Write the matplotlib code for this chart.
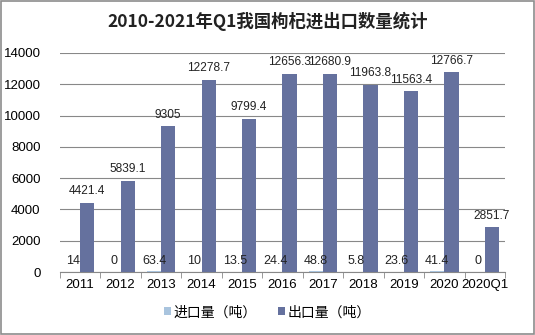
import matplotlib
matplotlib.use("Agg")
import matplotlib.pyplot as plt
import numpy as np

plt.rcParams['font.family'] = ['Liberation Sans', 'Noto Sans CJK SC', 'DejaVu Sans']

years = ["2011", "2012", "2013", "2014", "2015", "2016", "2017", "2018", "2019", "2020", "2020Q1"]
imports = [14, 0, 63.4, 10, 13.5, 24.4, 48.8, 5.8, 23.6, 41.4, 0]
exports = [4421.4, 5839.1, 9305, 12278.7, 9799.4, 12656.3, 12680.9, 11963.8, 11563.4, 12766.7, 2851.7]
import_labels = ["14", "0", "63.4", "10", "13.5", "24.4", "48.8", "5.8", "23.6", "41.4", "0"]
export_labels = ["4421.4", "5839.1", "9305", "12278.7", "9799.4", "12656.3", "12680.9",
                 "11963.8", "11563.4", "12766.7", "2851.7"]

c_imp = "#A9C4DE"
c_exp = "#65719E"

fig = plt.figure(figsize=(5.35, 3.35), dpi=100)
ax = fig.add_axes([0.112, 0.188, 0.832, 0.654])

x = np.arange(len(years))
w = 0.35
ax.bar(x - w / 2, imports, w, color=c_imp, label="进口量（吨）", zorder=3)
ax.bar(x + w / 2, exports, w, color=c_exp, label="出口量（吨）", zorder=3)

for xi, v, s in zip(x, imports, import_labels):
    ax.text(xi - w / 2, 300, s, ha="center", va="bottom", fontsize=9, color="#222222", zorder=4)
for xi, v, s in zip(x, exports, export_labels):
    ax.text(xi + w / 2, v + 350, s, ha="center", va="bottom", fontsize=8.6, color="#222222", zorder=4)

ax.set_xlim(-0.5, len(years) - 0.5)
ax.set_ylim(0, 14000)
ax.set_yticks(range(0, 14001, 2000))
ax.set_xticks(x)
ax.set_xticklabels(years, fontsize=9.5)
ax.set_xticks(np.arange(-0.5, len(years), 1), minor=True)
ax.tick_params(axis="x", which="major", length=0, pad=5)
ax.tick_params(axis="x", which="minor", length=4, color="#888888")
ax.tick_params(axis="y", length=0, labelsize=9.5, pad=14)
ax.grid(axis="y", color="#888888", linewidth=0.8, zorder=0)
for s in ["top", "right", "left"]:
    ax.spines[s].set_visible(False)
ax.spines["bottom"].set_color("#888888")

fig.text(0.5, 0.935, "2010-2021年Q1我国枸杞进出口数量统计", ha="center", va="center",
         fontsize=12.5, fontweight="bold", family=["Noto Sans CJK SC"], color="#222222")

fig.legend(loc="center", bbox_to_anchor=(0.5, 0.068), ncol=2, frameon=False,
           handlelength=0.5, handleheight=0.5, handletextpad=0.2,
           columnspacing=1.5, prop={"family": ["Noto Sans CJK SC"], "size": 10})

fig.patches.append(plt.Rectangle((0.002, 0.003), 0.996, 0.994, transform=fig.transFigure,
                                 fill=False, edgecolor="#8C8C8C", linewidth=1.2))

plt.savefig("out.png", dpi=100)
